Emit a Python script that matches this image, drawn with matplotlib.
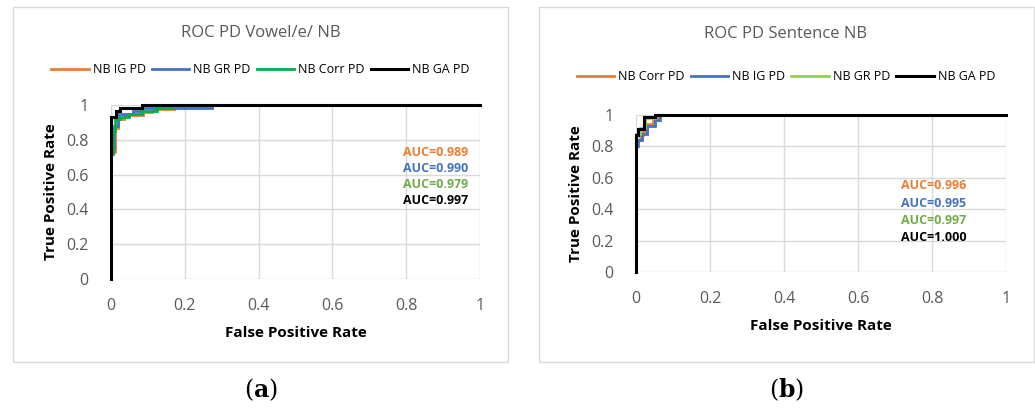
import matplotlib.pyplot as plt
from matplotlib.patches import Rectangle

# ROC curves, panel (a): vowel /e/
a_ig_fpr = [0, 0, 0.011, 0.011, 0.02, 0.02, 0.035, 0.035, 0.088, 0.088, 0.11, 0.11, 0.17, 0.17, 1]
a_ig_tpr = [0, 0.73, 0.73, 0.87, 0.87, 0.92, 0.92, 0.94, 0.94, 0.96, 0.96, 0.98, 0.98, 1, 1]
a_gr_fpr = [0, 0, 0.008, 0.008, 0.02, 0.02, 0.06, 0.06, 0.083, 0.083, 0.275, 0.275, 1]
a_gr_tpr = [0, 0.75, 0.75, 0.88, 0.88, 0.95, 0.95, 0.965, 0.965, 0.985, 0.985, 1, 1]
a_corr_fpr = [0, 0, 0.005, 0.005, 0.012, 0.012, 0.025, 0.025, 0.05, 0.05, 0.085, 0.085,
              0.125, 0.125, 0.165, 0.165, 1]
a_corr_tpr = [0, 0.72, 0.72, 0.85, 0.85, 0.92, 0.92, 0.93, 0.93, 0.95, 0.95, 0.965,
              0.965, 0.985, 0.985, 1, 1]
a_ga_fpr = [0, 0, 0.013, 0.013, 0.024, 0.024, 0.083, 0.083, 1]
a_ga_tpr = [0, 0.93, 0.93, 0.967, 0.967, 0.985, 0.985, 1, 1]
a_auc = ["AUC=0.989", "AUC=0.990", "AUC=0.979", "AUC=0.997"]

# ROC curves, panel (b): sentence
b_corr_fpr = [0, 0, 0.01, 0.01, 0.02, 0.02, 0.03, 0.03, 0.045, 0.045, 0.06, 0.06, 1]
b_corr_tpr = [0, 0.84, 0.84, 0.87, 0.87, 0.9, 0.9, 0.94, 0.94, 0.97, 0.97, 1, 1]
b_ig_fpr = [0, 0, 0.005, 0.005, 0.015, 0.015, 0.03, 0.03, 0.05, 0.05, 0.065, 0.065, 1]
b_ig_tpr = [0, 0.8, 0.8, 0.84, 0.84, 0.88, 0.88, 0.93, 0.93, 0.97, 0.97, 1, 1]
b_gr_fpr = [0, 0, 0.01, 0.01, 0.025, 0.025, 0.05, 0.05, 1]
b_gr_tpr = [0, 0.88, 0.88, 0.92, 0.92, 0.98, 0.98, 1, 1]
b_ga_fpr = [0, 0, 0.006, 0.006, 0.022, 0.022, 0.05, 0.05, 1]
b_ga_tpr = [0, 0.873, 0.873, 0.909, 0.909, 0.99, 0.99, 1, 1]
b_auc = ["AUC=0.996", "AUC=0.995", "AUC=0.997", "AUC=1.000"]

ticks = [0, 0.2, 0.4, 0.6, 0.8, 1]
tick_labels = ["0", "0.2", "0.4", "0.6", "0.8", "1"]

ORANGE = "#ED7D31"
BLUE = "#4472C4"
GREEN = "#00B050"
LGREEN = "#92D050"
AUCGREEN = "#70AD47"
GRID = "#D9D9D9"
TXT = "#595959"

plt.rcParams["font.family"] = ["Open Sans", "DejaVu Sans"]
plt.rcParams["mathtext.fontset"] = "dejavuserif"

fig = plt.figure(figsize=(10.35, 4.09), dpi=100)

# chart-area frames
for x0 in (0.0126, 0.5208):
    fig.patches.append(Rectangle((x0, 0.115), 0.478, 0.868, transform=fig.transFigure,
                                 fill=False, edgecolor=GRID, linewidth=1.0))


def roc_panel(rect, curves, title, auc_texts, auc_pos, title_y, leg_y, frame_cx):
    ax = fig.add_axes(rect)
    handles = []
    for fpr, tpr, color, lab, lw in curves:
        h, = ax.plot(fpr, tpr, color=color, lw=lw, label=lab, solid_joinstyle="miter",
                     clip_on=False, zorder=3)
        handles.append(h)
    ax.set_xlim(0, 1)
    ax.set_ylim(0, 1)
    ax.set_xticks(ticks)
    ax.set_yticks(ticks)
    ax.set_xticklabels(tick_labels)
    ax.set_yticklabels(tick_labels)
    ax.grid(True, color=GRID, lw=1.0)
    ax.tick_params(length=0, labelsize=11.5, colors=TXT, pad=14)
    ax.tick_params(axis="y", pad=16)
    for s in ax.spines.values():
        s.set_visible(False)
    ax.set_xlabel("False Positive Rate", fontsize=11, fontweight="bold", labelpad=8)
    ax.set_ylabel("True Positive Rate", fontsize=11, fontweight="bold", labelpad=6)
    fig.text(frame_cx, title_y, title, ha="center", va="center", fontsize=12, color=TXT)
    fig.legend(handles=handles, loc="center", bbox_to_anchor=(frame_cx, leg_y), ncol=4,
               frameon=False, handlelength=3.0, handletextpad=0.3, columnspacing=0.5,
               fontsize=9, borderaxespad=0)
    colors = [ORANGE, BLUE, AUCGREEN, "black"]
    for i, (t, c) in enumerate(zip(auc_texts, colors)):
        ax.text(auc_pos[0], auc_pos[1] - i * auc_pos[2], t, color=c, fontsize=9,
                fontweight="bold", transform=ax.transAxes, va="center")
    return ax


roc_panel([0.1072, 0.3178, 0.3565, 0.4254],
          [(a_ig_fpr, a_ig_tpr, ORANGE, "NB IG PD", 2.0),
           (a_gr_fpr, a_gr_tpr, BLUE, "NB GR PD", 2.0),
           (a_corr_fpr, a_corr_tpr, GREEN, "NB Corr PD", 2.0),
           (a_ga_fpr, a_ga_tpr, "black", "NB GA PD", 2.2)],
          "ROC PD Vowel/e/ NB", a_auc, (0.792, 0.728, 0.092), 0.919, 0.829, 0.2516)

roc_panel([0.6145, 0.3350, 0.3575, 0.3839],
          [(b_corr_fpr, b_corr_tpr, ORANGE, "NB Corr PD", 2.0),
           (b_ig_fpr, b_ig_tpr, BLUE, "NB IG PD", 2.0),
           (b_gr_fpr, b_gr_tpr, LGREEN, "NB GR PD", 2.0),
           (b_ga_fpr, b_ga_tpr, "black", "NB GA PD", 2.2)],
          "ROC PD Sentence NB", b_auc, (0.716, 0.548, 0.11), 0.917, 0.812, 0.7594)

# panel captions
fig.text(0.2522, 0.046, r"($\mathbf{a}$)", ha="center", va="center", fontsize=17,
         family="DejaVu Serif")
fig.text(0.7604, 0.046, r"($\mathbf{b}$)", ha="center", va="center", fontsize=17,
         family="DejaVu Serif")

fig.savefig("out.png", dpi=100)
